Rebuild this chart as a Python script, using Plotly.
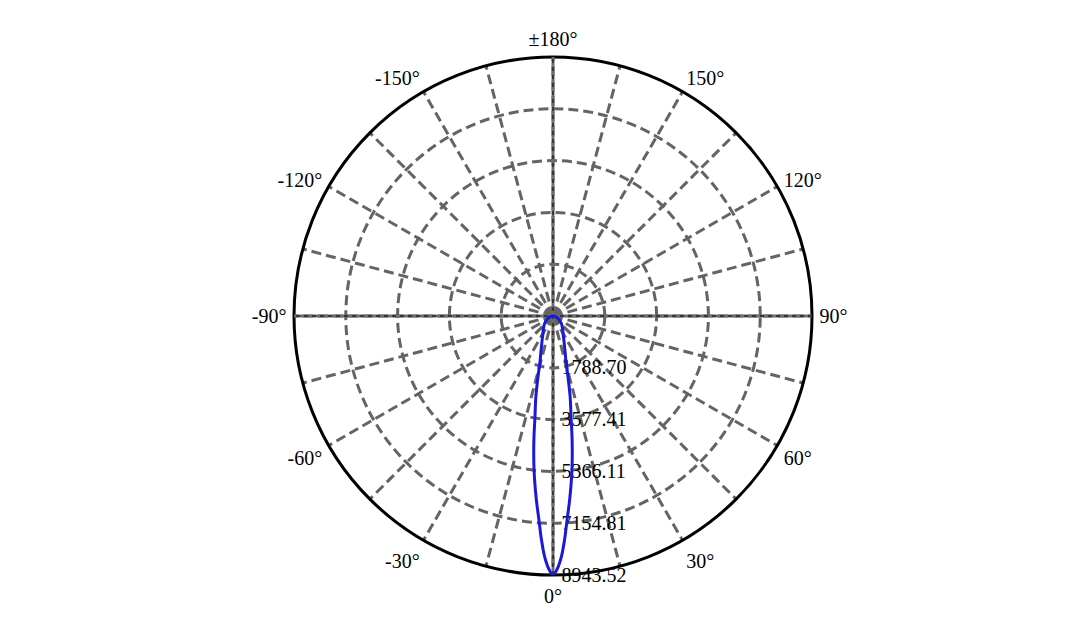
import plotly.graph_objects as go

# Luminous intensity (cd) per half-angle, C0/C180 plane, symmetric beam
half_angles = [0, 1, 2, 3, 4, 5, 6, 7, 8, 9, 10, 12, 14, 16, 18, 20, 25, 30,
               35, 40, 45, 50, 60, 70, 80, 90, 120, 150, 180]
intensity = [8943.52, 8720, 8316, 7706, 7022, 6470, 5919, 5367, 4781, 4192,
             3602, 2847, 2115, 1620, 1370, 1180, 880, 690, 590, 500, 430, 360,
             240, 130, 50, 0, 0, 0, 0]

r_max = 8943.52
radial_ticks = [1788.70, 3577.41, 5366.11, 7154.81, 8943.52]
radial_labels = ["1788.70", "3577.41", "5366.11", "7154.81", "8943.52"]

angle_ticks = list(range(0, 360, 15))
angle_labels = {0: "0°", 30: "30°", 60: "60°", 90: "90°", 120: "120°", 150: "150°",
                180: "±180°", 210: "-150°", 240: "-120°", 270: "-90°",
                300: "-60°", 330: "-30°"}

# mirror the half-plane to get the full curve
theta = [-a for a in half_angles[::-1]] + half_angles[1:]
r = intensity[::-1] + intensity[1:]

fig = go.Figure()

# solid cross-hair lines through the centre
for a in [0, 90]:
    fig.add_trace(go.Scatterpolar(
        r=[r_max, 0, r_max], theta=[a, 0, a + 180], mode="lines",
        line=dict(color="rgb(110,110,110)", width=3),
        hoverinfo="skip", showlegend=False))
    fig.add_trace(go.Scatterpolar(
        r=[r_max, 0, r_max], theta=[a, 0, a + 180], mode="lines",
        line=dict(color="black", width=1, dash="4px,4px"),
        hoverinfo="skip", showlegend=False))

fig.add_trace(go.Scatterpolar(
    r=r, theta=theta, mode="lines",
    line=dict(color="rgb(25,25,215)", width=3, shape="spline"),
    showlegend=False))

font = dict(family="Liberation Serif", size=20, color="black")
grid = "rgb(100,100,100)"

fig.update_layout(
    width=1087, height=621,
    margin=dict(l=0, r=0, t=0, b=0),
    paper_bgcolor="white",
    font=font,
    polar=dict(
        domain=dict(x=[286 / 1087, 804 / 1087], y=[1 - 567 / 621, 1 - 49 / 621]),
        bgcolor="white",
        angularaxis=dict(
            rotation=-90, direction="counterclockwise",
            tickmode="array", tickvals=angle_ticks,
            ticktext=[angle_labels.get(a, "") for a in angle_ticks],
            ticks="outside", ticklen=2, tickcolor="rgba(0,0,0,0)",
            showline=True, linecolor="black", linewidth=3,
            gridcolor=grid, gridwidth=2.5, griddash="10px,5px",
            tickfont=font, layer="below traces"),
        radialaxis=dict(
            range=[0, r_max], angle=-90, side="counterclockwise",
            tickmode="array", tickvals=radial_ticks, ticktext=radial_labels,
            ticks="outside", ticklen=4, tickcolor="rgba(0,0,0,0)",
            showline=False, tickangle=-90,
            gridcolor=grid, gridwidth=2.5, griddash="10px,5px",
            tickfont=font, layer="below traces"),
    ),
)

fig.write_html("out.html")
